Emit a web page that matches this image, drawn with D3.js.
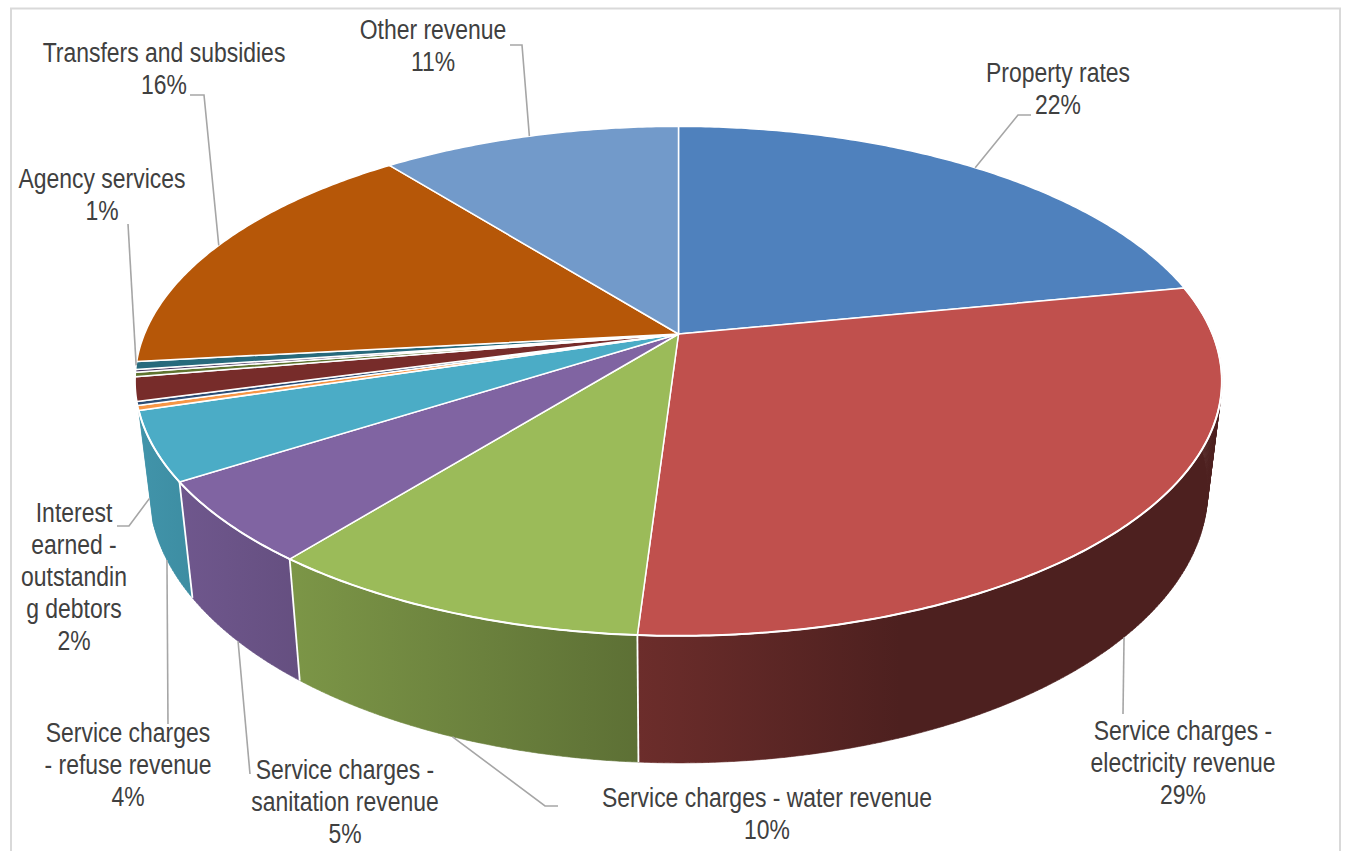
<!DOCTYPE html>
<html>
<head>
<meta charset="utf-8">
<script src="https://cdnjs.cloudflare.com/ajax/libs/d3/7.8.5/d3.min.js"></script>
<style>
html,body{margin:0;padding:0;background:#fff;overflow:hidden}
text{font-family:"Liberation Sans",Arial,sans-serif;font-size:27px;fill:#404040;text-anchor:middle}
</style>
</head>
<body>
<svg id="chart" width="1347" height="851"></svg>
<script>
// Revenue sources, percent of total, clockwise from twelve o'clock
const categories = ["Property rates","Service charges - electricity revenue","Service charges - water revenue",
  "Service charges - sanitation revenue","Service charges - refuse revenue","Fines","Licences and permits",
  "Interest earned - outstanding debtors","Rental of facilities","Interest earned - external investments",
  "Agency services","Transfers and subsidies","Other revenue"];
const shares = [21.9,29.1,9.7,5.2,4.35,0.3,0.25,1.5,0.28,0.18,0.5,16.1,10.64];
const sliceColors = ["#4f81bd","#c0504d","#9bbb59","#8064a2","#4bacc6","#f79646","#2c4d75","#772c2a","#5f7530","#4d3b62","#276a7c","#b65708","#729aca"];

// Side-wall shading: brightness at the left end, at the right end, and where the ramp stops
const wallShades = {1:[0.56,0.4,0.45],2:[0.8,0.6,1],3:[0.87,0.79,1],4:[0.86,0.82,1]};

// Wrapped label text, anchor and leader elbows, keyed by slice index
const labelLayout = {
  0:{lines:["Property rates"],x:1058,y:82,rim:"top",path:[[1018,115],[1031,115]]},
  1:{lines:["Service charges -","electricity revenue"],x:1183,y:740,rim:"bottom",path:[[1123,714]]},
  2:{lines:["Service charges - water revenue"],x:767,y:807,rim:"bottom",path:[[545,806],[558,806]]},
  3:{lines:["Service charges -","sanitation revenue"],x:345,y:779,rim:"bottom",path:[[250,774]]},
  4:{lines:["Service charges","- refuse revenue"],x:128,y:742,rim:"bottom",path:[[168,724]]},
  7:{lines:["Interest","earned -","outstandin","g debtors"],x:74,y:522,rim:"bottom",path:[[129,526],[117,526]]},
  10:{lines:["Agency services"],x:102,y:188,rim:"top",path:[[128,224]]},
  11:{lines:["Transfers and subsidies"],x:164,y:62,rim:"top",path:[[204,95],[190,95]]},
  12:{lines:["Other revenue"],x:433,y:39,rim:"top",path:[[522,45],[510,45]]}
};

const svg = d3.select("#chart");
const lineHeight = 32, textSqueeze = 0.85;

// Perspective disc: centre, half-axes and foreshortening of the tilted top face
const cx = 678.5, cy = 334, ax = 534, ay = 246, persp = 0.185;
const wallDepth = 127, rimY = 635, wallStretch = 0.072, wallTaper = 0.026;

function topRim(theta){
  const u = Math.sin(theta), v = -Math.cos(theta), w = 1/(1 - persp*v);
  return [cx + ax*u*w, cy + ay*v*w];
}
function bottomRim(theta){
  const [x,y] = topRim(theta);
  return [x + (cx - x)*wallTaper, y + wallDepth + (y - rimY)*wallStretch];
}
function arcAngles(a,b){
  const n = Math.max(2, Math.ceil((b-a)/0.01));
  return d3.range(n+1).map(i => a + (b-a)*i/n);
}

const pie = d3.pie().sort(null).value(d => d)(shares);
const outline = d3.line();

// Frame
svg.append("rect").attr("x",11).attr("y",8.5).attr("width",1329).attr("height",860)
  .attr("fill","#fff").attr("stroke","#d9d9d9").attr("stroke-width",2);

const defs = svg.append("defs");
const shaded = c => k => { const r = d3.rgb(c); return d3.rgb(r.r*k,r.g*k,r.b*k).formatHex(); };

// Side walls go first so the top face covers whatever lies behind the rim.
// Each wall is a run of narrow vertical strips, so the straight silhouette
// edges beyond the rim's tangent point are filled as well.
const walls = svg.append("g");
pie.forEach((s,i) => {
  const shade = wallShades[i];
  if(!shade) return;
  const tone = shaded(sliceColors[i]);
  const g = defs.append("linearGradient").attr("id","wall"+i);
  g.append("stop").attr("offset",0).attr("stop-color",tone(shade[0]));
  g.append("stop").attr("offset",shade[2]).attr("stop-color",tone(shade[1]));
  const angles = arcAngles(s.startAngle,s.endAngle);
  const strips = d3.pairs(angles).map(([a,b]) =>
    outline([topRim(a),topRim(b),bottomRim(b),bottomRim(a)])+"Z").join("");
  walls.append("path").attr("d",strips).attr("fill",`url(#wall${i})`)
    .attr("stroke",`url(#wall${i})`).attr("stroke-width",0.6);
});
// White seams between neighbouring walls
walls.selectAll("line").data(pie.filter((s,i) => wallShades[i] && wallShades[i+1])).join("line")
  .each(function(s){
    const a = topRim(s.endAngle), b = bottomRim(s.endAngle);
    d3.select(this).attr("x1",a[0]).attr("y1",a[1]).attr("x2",b[0]).attr("y2",b[1]);
  })
  .attr("stroke","#fff").attr("stroke-width",1.8);

// Top face
svg.append("g").selectAll("path").data(pie).join("path")
  .attr("d",s => outline([[cx,cy]].concat(arcAngles(s.startAngle,s.endAngle).map(topRim)))+"Z")
  .attr("fill",(s,i) => sliceColors[i])
  .attr("stroke","#fff").attr("stroke-width",1.5).attr("stroke-linejoin","round");

// Heavier white edge where the top face meets the walls
svg.append("g").selectAll("path").data(pie.filter((s,i) => wallShades[i])).join("path")
  .attr("d",s => outline(arcAngles(s.startAngle,s.endAngle).map(topRim)))
  .attr("fill","none").attr("stroke","#fff").attr("stroke-width",2);

// Leaders start on the rim at each slice's mid-angle
const leaders = svg.append("g").attr("fill","none").attr("stroke","#a6a6a6").attr("stroke-width",1.6);
const labels = svg.append("g");
Object.keys(labelLayout).forEach(k => {
  const i = +k, L = labelLayout[k], s = pie[i];
  const mid = (s.startAngle+s.endAngle)/2;
  const start = (L.rim==="top"?topRim:bottomRim)(mid);
  leaders.append("path").attr("d",outline([start].concat(L.path)));
  const text = L.lines.concat([Math.round(shares[i])+"%"]);
  labels.append("g").selectAll("text").data(text).join("text")
    .attr("transform",(d,j) => `translate(${L.x},${L.y + j*lineHeight}) scale(${textSqueeze},1)`)
    .text(d => d);
});
</script>
</body>
</html>
